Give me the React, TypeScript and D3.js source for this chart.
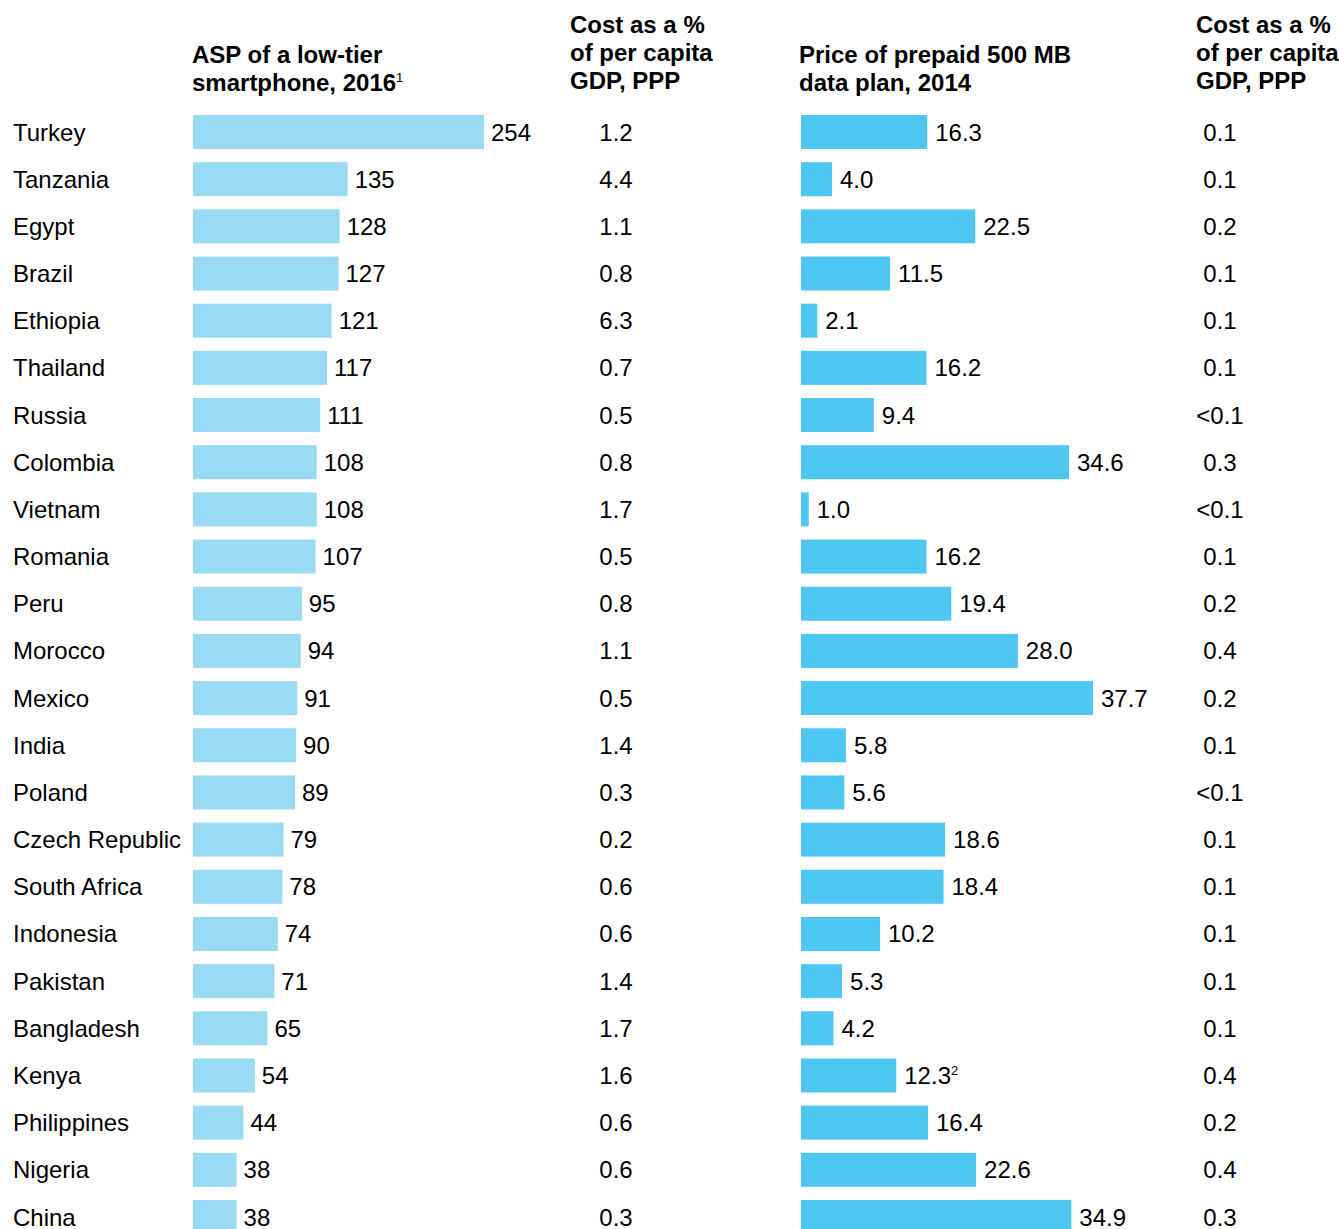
import React from "react";
import * as d3 from "d3";

const countries = ["Turkey","Tanzania","Egypt","Brazil","Ethiopia","Thailand","Russia","Colombia","Vietnam","Romania","Peru","Morocco","Mexico","India","Poland","Czech Republic","South Africa","Indonesia","Pakistan","Bangladesh","Kenya","Philippines","Nigeria","China"];
const aspValues = [254,135,128,127,121,117,111,108,108,107,95,94,91,90,89,79,78,74,71,65,54,44,38,38];
const aspCostPct = ["1.2","4.4","1.1","0.8","6.3","0.7","0.5","0.8","1.7","0.5","0.8","1.1","0.5","1.4","0.3","0.2","0.6","0.6","1.4","1.7","1.6","0.6","0.6","0.3"];
const dataPrice = [16.3,4.0,22.5,11.5,2.1,16.2,9.4,34.6,1.0,16.2,19.4,28.0,37.7,5.8,5.6,18.6,18.4,10.2,5.3,4.2,12.3,16.4,22.6,34.9];
const dataCostPct = ["0.1","0.1","0.2","0.1","0.1","0.1","<0.1","0.3","<0.1","0.1","0.2","0.4","0.2","0.1","<0.1","0.1","0.1","0.1","0.1","0.1","0.4","0.2","0.4","0.3"];
const dataPriceNotes = ["","","","","","","","","","","","","","","","","","","","","2","","",""];

const W = 1339, H = 1229;
const FONT = "'Liberation Sans', Arial, Helvetica, sans-serif";
const LEFT_COLOR = "#99DAF5";
const RIGHT_COLOR = "#4EC7F3";

export default function App() {
  const y = d3.scalePoint<string>().domain(countries).range([132, 1217]);
  const xAsp = d3.scaleLinear().domain([0, 254]).range([193, 484]);
  const xData = d3.scaleLinear().domain([0, 37.7]).range([801, 1093]);
  const barH = 34;
  const fs = 24;

  return (
    <svg width={W} height={H} style={{ position: "absolute", left: 0, top: 0, background: "#fff" }} fontFamily={FONT}>
      <rect x={0} y={0} width={W} height={H} fill="#fff" />
      {/* headers */}
      <g fontWeight="bold" fontSize={fs} fill="#000">
        <text x={192} y={63}>ASP of a low-tier</text>
        <text x={192} y={91}>smartphone, 2016<tspan fontSize={13} fontWeight="normal" dy={-9}>1</tspan></text>
        <text x={570} y={33}>Cost as a %</text>
        <text x={570} y={61}>of per capita</text>
        <text x={570} y={89}>GDP, PPP</text>
        <text x={799} y={63}>Price of prepaid 500 MB</text>
        <text x={799} y={91}>data plan, 2014</text>
        <text x={1196} y={33}>Cost as a %</text>
        <text x={1196} y={61}>of per capita</text>
        <text x={1196} y={89}>GDP, PPP</text>
      </g>
      {countries.map((c, i) => {
        const cy = y(c)!;
        const base = cy + 8.5;
        return (
          <g key={c} fontSize={fs} fill="#000">
            <text x={13} y={base}>{c}</text>
            <rect x={xAsp(0)} y={cy - barH / 2} width={xAsp(aspValues[i]) - xAsp(0)} height={barH} fill={LEFT_COLOR} />
            <text x={xAsp(aspValues[i]) + 7} y={base}>{aspValues[i]}</text>
            <text x={616} y={base} textAnchor="middle">{aspCostPct[i]}</text>
            <rect x={xData(0)} y={cy - barH / 2} width={xData(dataPrice[i]) - xData(0)} height={barH} fill={RIGHT_COLOR} />
            <text x={xData(dataPrice[i]) + 8} y={base}>
              {dataPrice[i].toFixed(1)}
              {dataPriceNotes[i] ? <tspan fontSize={13} dy={-9}>{dataPriceNotes[i]}</tspan> : null}
            </text>
            <text x={1220} y={base} textAnchor="middle">{dataCostPct[i]}</text>
          </g>
        );
      })}
    </svg>
  );
}
